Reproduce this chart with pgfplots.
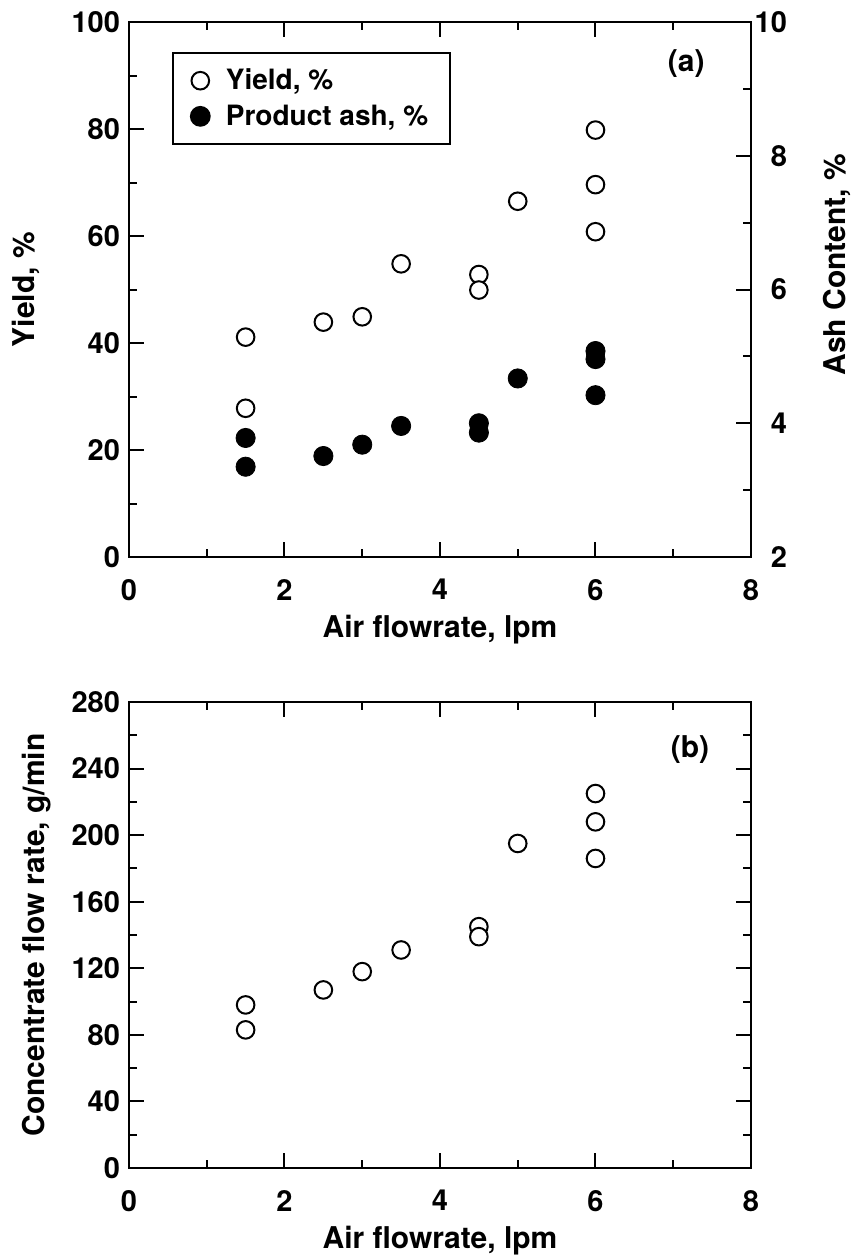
\documentclass[border=0pt]{standalone}
\usepackage{fontspec}
\setmainfont{TeX Gyre Heros}
\usepackage{pgfplots}
\pgfplotsset{compat=1.18}

\pgfplotsset{
  panel/.style={
    scale only axis,
    width=311pt,
    xmin=0, xmax=8,
    xtick={0,2,4,6,8},
    minor x tick num=1,
    axis line style={line width=1.2pt},
    every tick/.style={black, line width=1pt},
    major tick length=7.5pt,
    minor tick length=4pt,
    tick align=inside,
    /pgf/number format/assume math mode=true,
    tick label style={font=\fontsize{14.5}{16}\selectfont\bfseries},
    xticklabel style={yshift=-7.5pt},
    yticklabel style={xshift=-1pt},
    xlabel style={at={(axis description cs:0.5,0)}, anchor=center, yshift=-36.5pt},
  },
  openpt/.style={only marks, mark=*, mark size=4.4pt,
    mark options={fill=white, draw=black, line width=1pt}},
  fullpt/.style={only marks, mark=*, mark size=4.8pt,
    mark options={fill=black, draw=black}},
}

\begin{document}
\begin{tikzpicture}[font=\fontsize{15}{17}\selectfont\bfseries]
\path[use as bounding box] (-64.5pt,-351.5pt) rectangle (363pt,278.5pt);

% (a) yield, left axis
\begin{axis}[
  panel,
  at={(0pt,0pt)}, anchor=south west,
  height=267.5pt,
  ymin=0, ymax=100,
  ytick={0,20,40,60,80,100},
  minor y tick num=1,
  xtick pos=both,
  ytick pos=left,
  xlabel={Air flowrate, lpm},
  ylabel={Yield, \%},
  ylabel style={at={(axis description cs:-0.166,0.5)}, anchor=center},
]
\addplot[openpt] table {
x y
1.5 41.1
1.5 27.8
2.5 43.9
3.0 44.9
3.5 54.8
4.5 52.8
4.5 49.9
5.0 66.5
6.0 79.8
6.0 69.6
6.0 60.8
};
\node at (axis description cs:0.896,0.923) {(a)};
\end{axis}

% (a) ash content, right axis
\begin{axis}[
  panel,
  at={(0pt,0pt)}, anchor=south west,
  height=267.5pt,
  hide x axis,
  axis y line*=right,
  ymin=2, ymax=10,
  ytick={2,4,6,8,10},
  minor y tick num=1,
  yticklabel style={anchor=east, xshift=22.5pt},
  ylabel={Ash Content, \%},
  ylabel style={at={(axis description cs:1.138,0.546)}, anchor=center},
  legend cell align=left,
  legend style={at={(axis description cs:0.069,0.944)}, anchor=north west,
    draw=black, line width=0.8pt, inner xsep=9pt, inner ysep=6pt,
    row sep=2pt, font=\fontsize{14}{16}\selectfont\bfseries,
    /tikz/every odd column/.append style={column sep=6pt}},
]
\addlegendimage{openpt}
\addlegendentry{Yield, \%}
\addplot[fullpt] table {
x y
1.5 3.78
1.5 3.35
2.5 3.51
3.0 3.68
3.5 3.96
4.5 4.00
4.5 3.86
5.0 4.67
6.0 5.08
6.0 4.96
6.0 4.42
};
\addlegendentry{Product ash, \%}
\end{axis}

% (b) concentrate flow rate
\begin{axis}[
  panel,
  at={(0pt,-305.5pt)}, anchor=south west,
  height=233pt,
  ymin=0, ymax=280,
  ytick={0,40,80,120,160,200,240,280},
  minor y tick num=1,
  xtick pos=both,
  ytick pos=both,
  yticklabel pos=left,
  xlabel={Air flowrate, lpm},
  ylabel={Concentrate flow rate, g/min},
  ylabel style={at={(axis description cs:-0.148,0.5)}, anchor=center},
]
\addplot[openpt] table {
x y
1.5 98
1.5 83
2.5 107
3.0 118
3.5 131
4.5 145
4.5 139
5.0 195
6.0 225
6.0 208
6.0 186
};
\node at (axis description cs:0.902,0.897) {(b)};
\end{axis}
\end{tikzpicture}
\end{document}
